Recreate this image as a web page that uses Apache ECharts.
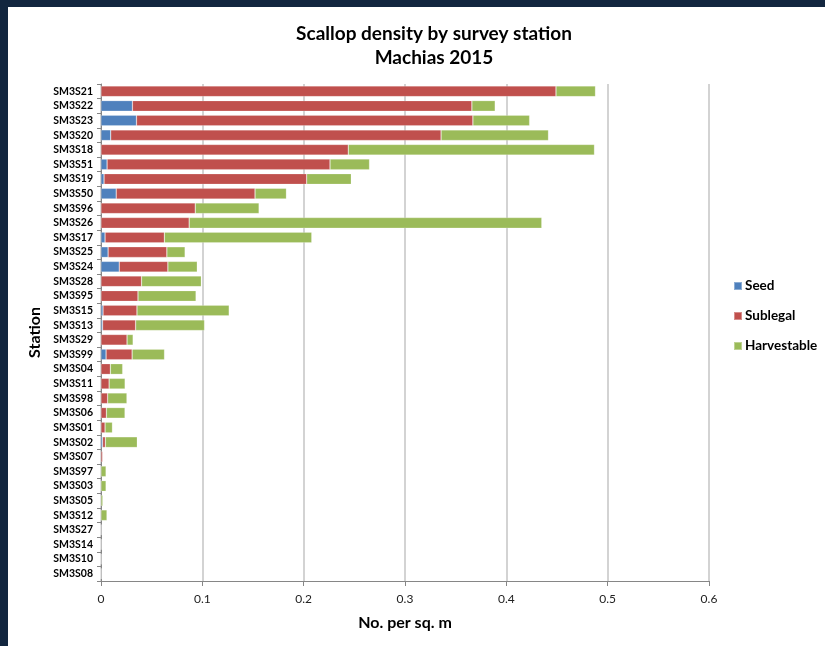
<!DOCTYPE html>
<html>
<head>
<meta charset="utf-8">
<script src="https://cdn.jsdelivr.net/npm/echarts@6/dist/echarts.min.js"></script>
<style>
html,body{margin:0;padding:0;background:#fff;}
#chart{width:825px;height:646px;}
</style>
</head>
<body>
<div id="chart"></div>
<script>
const stations = ['SM3S21','SM3S22','SM3S23','SM3S20','SM3S18','SM3S51','SM3S19','SM3S50','SM3S96','SM3S26','SM3S17','SM3S25','SM3S24','SM3S28','SM3S95','SM3S15','SM3S13','SM3S29','SM3S99','SM3S04','SM3S11','SM3S98','SM3S06','SM3S01','SM3S02','SM3S07','SM3S97','SM3S03','SM3S05','SM3S12','SM3S27','SM3S14','SM3S10','SM3S08'];
const seed =        [0,0.031,0.035,0.0096,0,0.006,0.003,0.015,0,0,0.004,0.007,0.018,0,0,0.002,0.0016,0,0.005,0,0,0,0,0,0.0016,0,0,0,0,0,0,0,0,0];
const sublegal =    [0.449,0.335,0.332,0.326,0.244,0.220,0.200,0.137,0.093,0.087,0.0585,0.058,0.048,0.040,0.0365,0.0335,0.0326,0.0257,0.0257,0.0092,0.008,0.0066,0.0053,0.004,0.0027,0.0017,0,0,0,0,0,0,0,0];
const harvestable = [0.039,0.023,0.056,0.106,0.243,0.039,0.044,0.031,0.063,0.348,0.1455,0.018,0.029,0.059,0.0573,0.091,0.068,0.006,0.032,0.0122,0.0158,0.019,0.0184,0.0073,0.0315,0,0.005,0.005,0.0018,0.0059,0,0,0,0];
const xTicks = [0,0.1,0.2,0.3,0.4,0.5,0.6];

const FONT = 'Lato, "Open Sans", sans-serif';
const chart = echarts.init(document.getElementById('chart'), null, {renderer:'canvas'});
const mk = (name, data, color) => ({
  name, type:'bar', stack:'total', data,
  barCategoryGap:'27%',
  itemStyle:{color, borderColor:'rgba(255,255,255,0.35)', borderWidth:0.6},
  emphasis:{disabled:true}
});
chart.setOption({
  animation:false,
  backgroundColor:'#ffffff',
  graphic:[
    {type:'rect', shape:{x:0,y:0,width:825,height:7}, style:{fill:'#12263f'}, z:100},
    {type:'rect', shape:{x:0,y:0,width:8,height:646}, style:{fill:'#12263f'}, z:100}
  ],
  title:{
    text:'Scallop density by survey station\nMachias 2015',
    left:429, top:17, textAlign:'center',
    textStyle:{fontFamily:FONT, fontWeight:'bold', fontSize:19, color:'#000', lineHeight:24}
  },
  legend:{
    orient:'vertical', left:728, top:274,
    itemWidth:8, itemHeight:8, itemGap:16,
    icon:'rect',
    textStyle:{fontFamily:FONT, fontWeight:'bold', fontSize:13.5, color:'#000', padding:[0,0,0,-2]},
    data:['Seed','Sublegal','Harvestable']
  },
  grid:{left:101, right:116, top:84, bottom:65, containLabel:false},
  xAxis:{
    type:'value', min:0, max:0.6, interval:0.1,
    name:'No. per sq. m', nameLocation:'middle', nameGap:34,
    nameTextStyle:{fontFamily:FONT, fontWeight:'bold', fontSize:16, color:'#000'},
    axisLine:{show:true, lineStyle:{color:'#868686'}},
    axisTick:{show:true, length:5, lineStyle:{color:'#868686'}},
    axisLabel:{fontFamily:FONT, fontSize:12, color:'#222', margin:12,
      formatter:v=>{const t=xTicks.find(x=>Math.abs(x-v)<1e-9); return t===undefined?'':String(t);}},
    splitLine:{show:true, lineStyle:{color:'#c4c4c4', width:1.5}}
  },
  yAxis:{
    type:'category', data:stations, inverse:true,
    name:'Station', nameLocation:'middle', nameGap:57,
    nameTextStyle:{fontFamily:FONT, fontWeight:'bold', fontSize:16, color:'#000'},
    axisLine:{show:true, lineStyle:{color:'#868686'}},
    axisTick:{show:true, length:4, lineStyle:{color:'#868686'}},
    axisLabel:{fontFamily:FONT, fontWeight:'bold', fontSize:10.5, color:'#000', margin:8, interval:0},
    splitLine:{show:false}
  },
  series:[
    mk('Seed', seed, '#4f81bd'),
    mk('Sublegal', sublegal, '#c0504d'),
    mk('Harvestable', harvestable, '#9bbb59')
  ]
});
</script>
</body>
</html>
